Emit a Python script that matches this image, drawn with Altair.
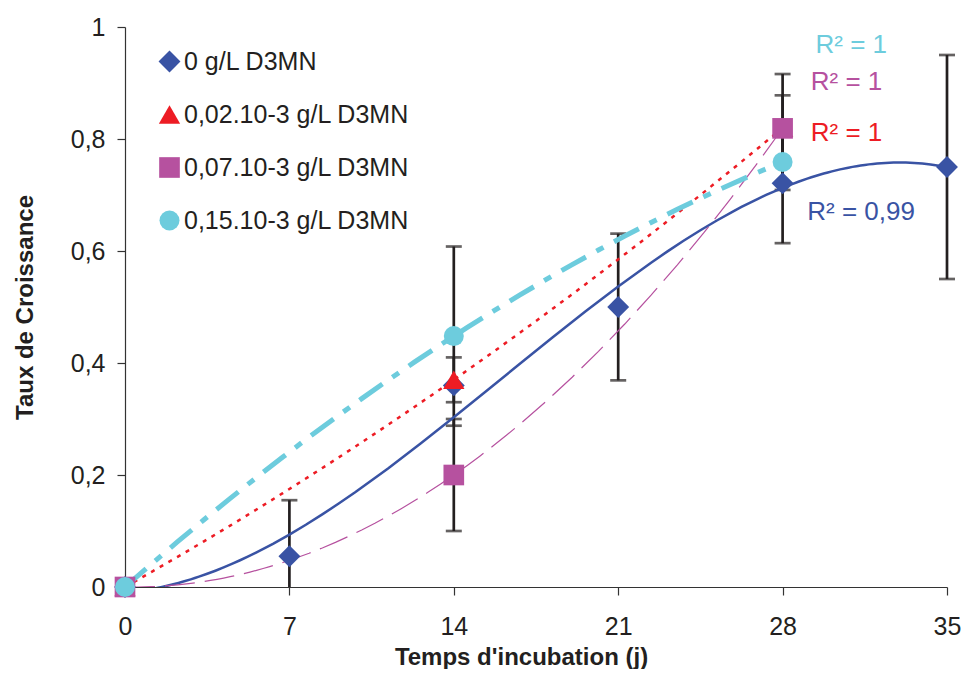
import altair as alt
import pandas as pd

FONT = "Liberation Sans"

# ---- data ----
days = [0, 7, 14, 21, 28, 35]
days_sub = [0, 14, 28]

series_names = ["0 g/L D3MN", "0,02.10-3 g/L D3MN", "0,07.10-3 g/L D3MN", "0,15.10-3 g/L D3MN"]
colors = ["#3953A4", "#ED1C24", "#B6519F", "#6DCCDD"]
shapes = ["diamond", "triangle-up", "square", "circle"]
sizes = [480, 400, 400, 320]

y_blue = [0, 0.055, 0.36, 0.50, 0.721, 0.75]
err_blue = [0, 0.10, 0, 0.131, 0.107, 0.20]
y_red = [0, 0.37, 0.82]
err_red = [0, 0.04, 0.058]
y_purple = [0, 0.20, 0.819]
err_purple = [0, 0.10, 0.097]
y_cyan = [0, 0.448, 0.759]
err_cyan = [0, 0.16, 0.05]

r2_text = ["R\u00b2 = 1", "R\u00b2 = 1", "R\u00b2 = 1", "R\u00b2 = 0,99"]
r2_color = ["#6DCCDD", "#B6519F", "#ED1C24", "#3953A4"]
r2_day = [29.4, 29.2, 29.2, 29.05]
r2_val = [0.967, 0.901, 0.81, 0.67]

y_ticks = [0, 0.2, 0.4, 0.6, 0.8, 1]

# ---- tables ----
rows = []
for name, xs, ys, es in [
    (series_names[0], days, y_blue, err_blue),
    (series_names[1], days_sub, y_red, err_red),
    (series_names[2], days_sub, y_purple, err_purple),
    (series_names[3], days_sub, y_cyan, err_cyan),
]:
    for x, y, e in zip(xs, ys, es):
        rows.append({"series": name, "day": x, "value": y, "err": e})
df = pd.DataFrame(rows)
df["lo"] = (df["value"] - df["err"]).clip(lower=0)
df["hi"] = df["value"] + df["err"]

bars = df[df["err"] > 0].copy()
low_ok = bars[bars["value"] - bars["err"] >= 0]
caps = pd.concat([
    bars.assign(cap=bars["hi"]),
    low_ok.assign(cap=low_ok["value"] - low_ok["err"]),
])

xscale = alt.Scale(domain=[0, 35], nice=False, zero=True)
yscale = alt.Scale(domain=[0, 1], nice=False, zero=True)

xaxis = alt.Axis(
    values=days, title="Temps d'incubation (j)", grid=False, tickSize=8,
    labelPadding=19, labelFlush=False, titleX=396, titleY=77, titleBaseline="alphabetic",
    titleAlign="center", format="d",
)
yaxis = alt.Axis(
    values=y_ticks, title="Taux de Croissance", grid=False, tickSize=8,
    labelPadding=12, labelFlush=False,
    labelExpr="replace(format(datum.value, '.1~f'), '.', ',')",
    titleX=-93, titleY=280, titleAngle=270, titleBaseline="alphabetic", titleAlign="center",
)

base = alt.Chart(df)

errbars = alt.Chart(bars).mark_rule(color="#231F20", strokeWidth=2.7).encode(
    x=alt.X("day:Q", scale=xscale, axis=xaxis),
    y=alt.Y("lo:Q", scale=yscale, axis=yaxis),
    y2="hi:Q",
)
errcaps = alt.Chart(caps).mark_tick(color="#231F20", size=16, thickness=2.7, orient="horizontal").encode(
    x=alt.X("day:Q", scale=xscale),
    y=alt.Y("cap:Q", scale=yscale),
)

line_styles = [
    dict(color=colors[0], strokeWidth=2.5),
    dict(color=colors[1], strokeWidth=2.5, strokeDash=[4, 6]),
    dict(color=colors[2], strokeWidth=1.2, strokeDash=[30, 10]),
    dict(color=colors[3], strokeWidth=5, strokeDash=[28, 12, 8, 12]),
]
orders = [3, 2, 2, 2]
extents = [[0, 35], [0, 28], [0, 28], [0, 28]]

lines = []
for name, style, order, ext in zip(series_names, line_styles, orders, extents):
    ln = base.transform_filter(alt.datum.series == name).transform_regression(
        "day", "value", method="poly", order=order, extent=ext
    ).mark_line(clip=True, **style).encode(
        x=alt.X("day:Q", scale=xscale),
        y=alt.Y("value:Q", scale=yscale),
    )
    lines.append(ln)

legend = alt.Legend(
    title=None, orient="none", legendX=32, legendY=22, labelFontSize=25,
    labelFont=FONT, symbolSize=300, rowPadding=27, labelOffset=2, padding=0,
    symbolStrokeWidth=0, symbolOpacity=1, labelColor="#231F20", labelLimit=0,
)

points = base.mark_point(filled=True, opacity=1, strokeWidth=0).encode(
    x=alt.X("day:Q", scale=xscale),
    y=alt.Y("value:Q", scale=yscale),
    color=alt.Color("series:N", scale=alt.Scale(domain=series_names, range=colors), legend=legend, sort=series_names),
    shape=alt.Shape("series:N", scale=alt.Scale(domain=series_names, range=shapes), legend=legend, sort=series_names),
    size=alt.Size("series:N", scale=alt.Scale(domain=series_names, range=sizes), legend=None),
)

texts = []
for t, c, d, v in zip(r2_text, r2_color, r2_day, r2_val):
    tdf = pd.DataFrame({"label": [t], "day": [d], "value": [v]})
    texts.append(
        alt.Chart(tdf).mark_text(align="left", baseline="middle", fontSize=26, font=FONT, color=c).encode(
            x=alt.X("day:Q", scale=xscale),
            y=alt.Y("value:Q", scale=yscale),
            text="label:N",
        )
    )

chart = alt.layer(errbars, errcaps, *lines, points, *texts).properties(
    width=822, height=560,
    autosize=alt.AutoSizeParams(type="none"),
    padding={"left": 117, "top": 19, "right": 14, "bottom": 82},
    background="white",
).configure_view(stroke=None).configure_axis(
    labelFont=FONT, titleFont=FONT, labelFontSize=25, titleFontSize=24,
    titleFontWeight="bold", labelColor="#231F20", titleColor="#231F20",
    domainColor="#333333", tickColor="#333333", domainWidth=1.2, tickWidth=1.2,
)

chart.save("out.html", embed_options={"renderer": "svg", "actions": False})
